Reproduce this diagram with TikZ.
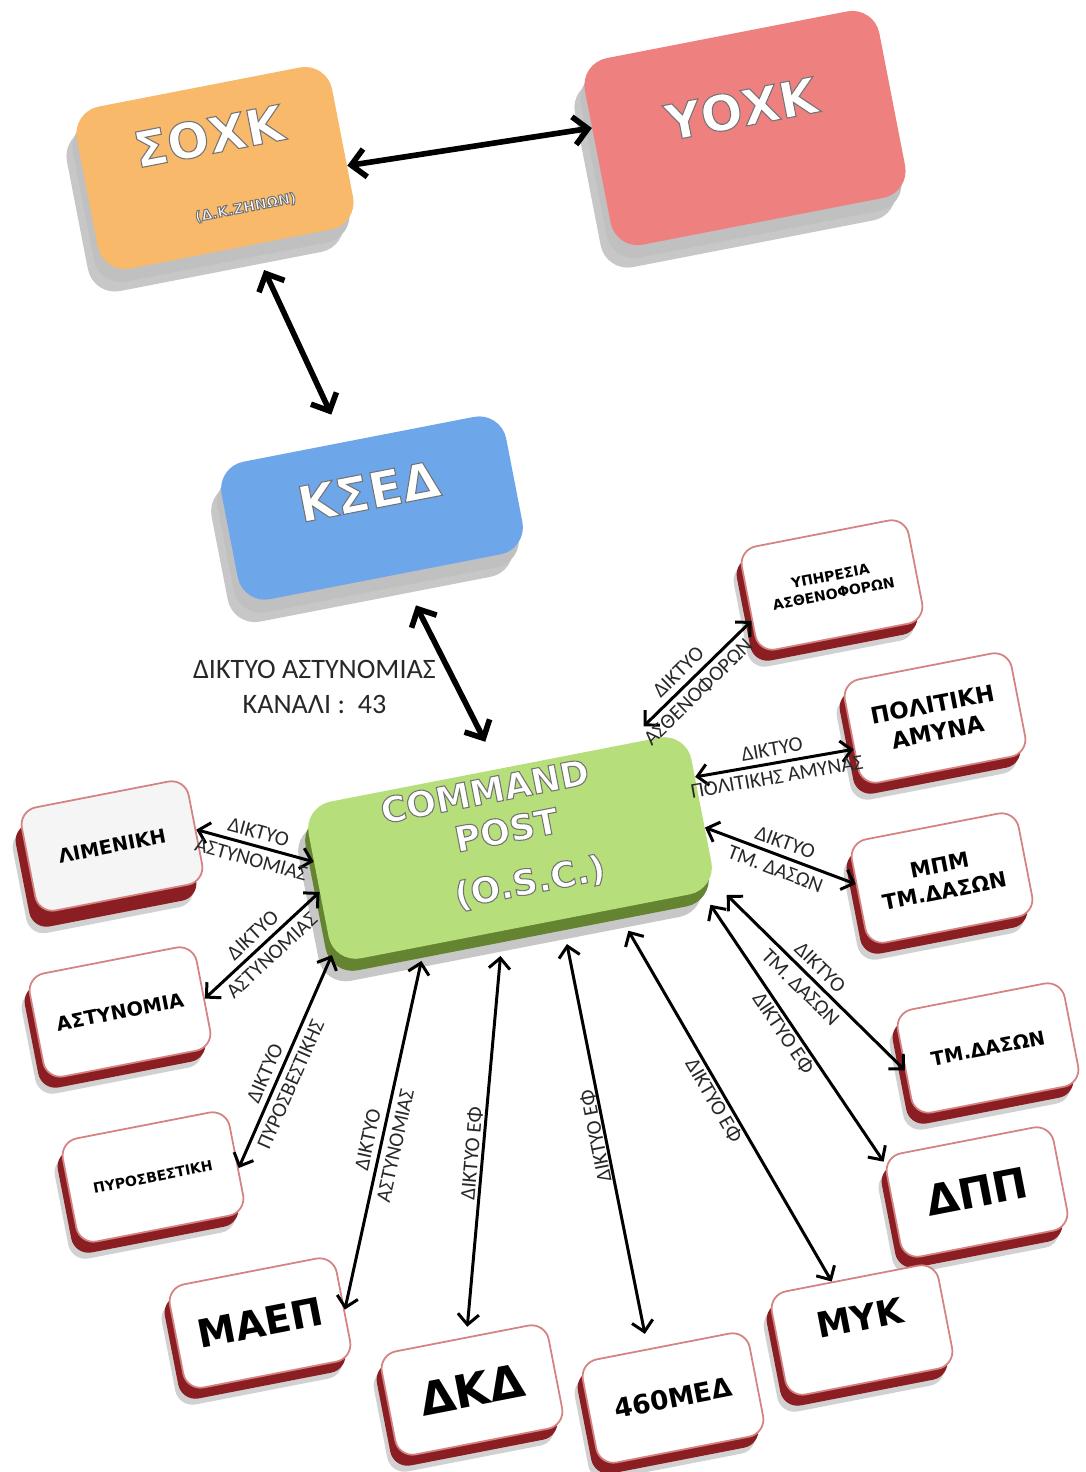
\documentclass[tikz,border=0pt]{standalone}
\usepackage{fontspec}
\setmainfont{Carlito}
\newfontfamily\boxfont{DejaVu Sans}
\usetikzlibrary{arrows.meta, shadows, positioning}

\definecolor{soxkfill}{RGB}{248,185,107}
\definecolor{yoxkfill}{RGB}{238,128,128}
\definecolor{ksedfill}{RGB}{110,166,234}
\definecolor{cpfill}{RGB}{182,222,122}
\definecolor{cpside}{RGB}{100,132,50}
\definecolor{mainside}{RGB}{192,192,192}
\definecolor{unitside}{RGB}{138,30,34}
\definecolor{unitedge}{RGB}{212,130,130}
\definecolor{labelgray}{RGB}{40,40,40}

\newcommand{\emb}[1]{\special{pdf:literal direct 2 Tr 0.45 G 0.6 w}#1\special{pdf:literal direct 0 Tr}}

\tikzset{
  mainbox/.style={rounded corners=0.55cm, rotate=11, text=white, align=center,
    font=\boxfont\bfseries\fontsize{28}{32}\selectfont,
    drop shadow={shadow xshift=-0.2cm, shadow yshift=-0.45cm, fill=black, opacity=.22},
    drop shadow={shadow xshift=-0.08cm, shadow yshift=-0.26cm, fill=mainside, opacity=1}},
  cpbox/.style={rounded corners=0.55cm, rotate=11, text=white, align=center, fill=cpfill,
    font=\boxfont\bfseries\fontsize{20}{24}\selectfont,
    drop shadow={shadow xshift=-0.2cm, shadow yshift=-0.45cm, fill=black, opacity=.22},
    drop shadow={shadow xshift=-0.06cm, shadow yshift=-0.24cm, fill=cpside, opacity=1}},
  unitbase/.style={rounded corners=0.35cm, rotate=11, draw=unitedge, line width=1pt,
    minimum width=3.4cm, minimum height=2.1cm, align=center},
  unitbox/.style={unitbase, fill=white,
    drop shadow={shadow xshift=-0.16cm, shadow yshift=-0.34cm, fill=black, opacity=.18},
    drop shadow={shadow xshift=-0.1cm, shadow yshift=-0.22cm, fill=unitside, opacity=1}},
  limbox/.style={unitbase, fill=black!4,
    drop shadow={shadow xshift=-0.18cm, shadow yshift=-0.45cm, fill=black, opacity=.18},
    drop shadow={shadow xshift=-0.12cm, shadow yshift=-0.32cm, fill=unitside, opacity=1}},
  link/.style={<->, line width=1.7pt, >={Straight Barb[length=6pt, width=12pt]}},
  biglink/.style={<->, line width=3.2pt, >={Straight Barb[length=8pt, width=16pt]}},
  lbl/.style={pos=.5, sloped, align=center, font=\fontsize{12}{16}\selectfont, text=labelgray, inner sep=1pt}
}

\begin{document}
\begin{tikzpicture}[x=0.02cm, y=-0.02cm]
\fill[white] (0,0) rectangle (1086,1472);
\useasboundingbox (0,0) rectangle (1086,1472);

\node[mainbox, fill=soxkfill, minimum width=5.2cm, minimum height=3.3cm] (soxk) at (215,168)
{\emb{ΣΟΧΚ}\\[0.15cm]{\fontsize{8}{9}\selectfont\hspace*{0.9cm}\emb{(Δ.Κ.ΖΗΝΩΝ)}}};
\node[mainbox, fill=yoxkfill, minimum width=6cm, minimum height=3.8cm] (yoxk) at (745,128)
{\raisebox{0.8cm}{\emb{ΥΟΧΚ}}};
\node[mainbox, fill=ksedfill, minimum width=5.8cm, minimum height=2.8cm] (ksed) at (372,508)
{\raisebox{0.68cm}{\emb{ΚΣΕΔ}}};
\node[cpbox, minimum width=7.8cm, minimum height=3cm] (cp) at (510,848)
{\emb{COMMAND}\hspace*{0.56cm}\\\emb{POST}\\[0.25cm]\hspace*{0.52cm}\emb{(O.S.C.)}\rule[-0.5cm]{0pt}{1pt}};

\node[unitbox, font=\boxfont\bfseries\fontsize{8}{10}\selectfont] (amb) at (832,585) {ΥΠΗΡΕΣΙΑ\\ΑΣΘΕΝΟΦΟΡΩΝ};
\node[unitbox, font=\boxfont\bfseries\fontsize{13}{16}\selectfont] (pol) at (935,718) {ΠΟΛΙΤΙΚΗ\\ΑΜΥΝΑ};
\node[limbox, font=\boxfont\bfseries\fontsize{11}{13}\selectfont] (lim) at (112,846) {ΛΙΜΕΝΙΚΗ};
\node[unitbox, font=\boxfont\bfseries\fontsize{12}{15}\selectfont] (mpm) at (942,878) {ΜΠΜ\\ΤΜ.ΔΑΣΩΝ};
\node[unitbox, font=\boxfont\bfseries\fontsize{11}{13}\selectfont] (ast) at (120,1012) {ΑΣΤΥΝΟΜΙΑ};
\node[unitbox, font=\boxfont\bfseries\fontsize{11}{13}\selectfont] (tmd) at (988,1048) {ΤΜ.ΔΑΣΩΝ};
\node[unitbox, font=\boxfont\bfseries\fontsize{8}{10}\selectfont] (pyr) at (153,1177) {ΠΥΡΟΣΒΕΣΤΙΚΗ};
\node[unitbox, font=\boxfont\bfseries\fontsize{24}{28}\selectfont] (dpp) at (977,1192) {ΔΠΠ};
\node[unitbox, font=\boxfont\bfseries\fontsize{22}{26}\selectfont] (maep) at (260,1323) {ΜΑΕΠ};
\node[unitbox, font=\boxfont\bfseries\fontsize{26}{30}\selectfont] (dkd) at (472,1390) {ΔΚΔ};
\node[unitbox, font=\boxfont\bfseries\fontsize{15}{18}\selectfont] (med) at (673,1398) {460ΜΕΔ};
\node[unitbox, font=\boxfont\bfseries\fontsize{20}{24}\selectfont] (myk) at (862,1330) {\raisebox{0.5cm}{ΜΥΚ}};

\draw[biglink] (soxk.-10) -- (yoxk.169);
\draw[biglink, shorten <=0.55cm, shorten >=0.6cm] (soxk.-75) -- (ksed.102);
\draw[biglink, shorten <=0.7cm, shorten >=0.6cm] (ksed.-78) -- (cp.87)
  node[midway, left=0.1cm, yshift=-0.32cm, align=center, text=labelgray, font=\fontsize{16}{20}\selectfont]
  {ΔΙΚΤΥΟ ΑΣΤΥΝΟΜΙΑΣ\\ΚΑΝΑΛΙ :\ \ 43};

\draw[link, shorten <=0.5cm] (cp.31) -- (amb.-167) node[lbl] {ΔΙΚΤΥΟ\\ΑΣΘΕΝΟΦΟΡΩΝ};
\draw[link] (cp.10) -- (pol.-170) node[lbl] {ΔΙΚΤΥΟ\\ΠΟΛΙΤΙΚΗΣ ΑΜΥΝΑΣ};
\draw[link] (cp.-5) -- (mpm.173) node[lbl] {ΔΙΚΤΥΟ\\ΤΜ. ΔΑΣΩΝ};
\draw[link, shorten <=0.3cm] (cp.-21) -- (tmd.-176) node[lbl] {ΔΙΚΤΥΟ\\ΤΜ. ΔΑΣΩΝ};
\draw[link, shorten <=0.3cm] (cp.-24) -- (dpp.151) node[lbl, below] {ΔΙΚΤΥΟ ΕΦ};
\draw[link, shorten <=0.5cm] (cp.-41) -- (myk.111) node[lbl, below] {ΔΙΚΤΥΟ ΕΦ};
\draw[link, shorten >=0.5cm, shorten <=0.3cm] (med.106) -- (cp.-65) node[lbl, allow upside down, above=-1pt] {ΔΙΚΤΥΟ ΕΦ};
\draw[link, shorten <=0.5cm, shorten >=0.2cm] (cp.-106) -- (dkd.85) node[lbl, pos=.55, above] {ΔΙΚΤΥΟ ΕΦ};
\draw[link, shorten <=0.3cm] (cp.-142) -- (maep.-2) node[lbl, pos=.54] {ΔΙΚΤΥΟ\\ΑΣΤΥΝΟΜΙΑΣ};
\draw[link] (cp.-160) -- (pyr.-5) node[lbl, pos=.58] {ΔΙΚΤΥΟ\\ΠΥΡΟΣΒΕΣΤΙΚΗΣ};
\draw[link] (cp.-178) -- (ast.-2) node[lbl] {ΔΙΚΤΥΟ\\ΑΣΤΥΝΟΜΙΑΣ};
\draw[link] (cp.173) -- (lim.east) node[lbl] {ΔΙΚΤΥΟ\\ΑΣΤΥΝΟΜΙΑΣ};
\end{tikzpicture}
\end{document}
